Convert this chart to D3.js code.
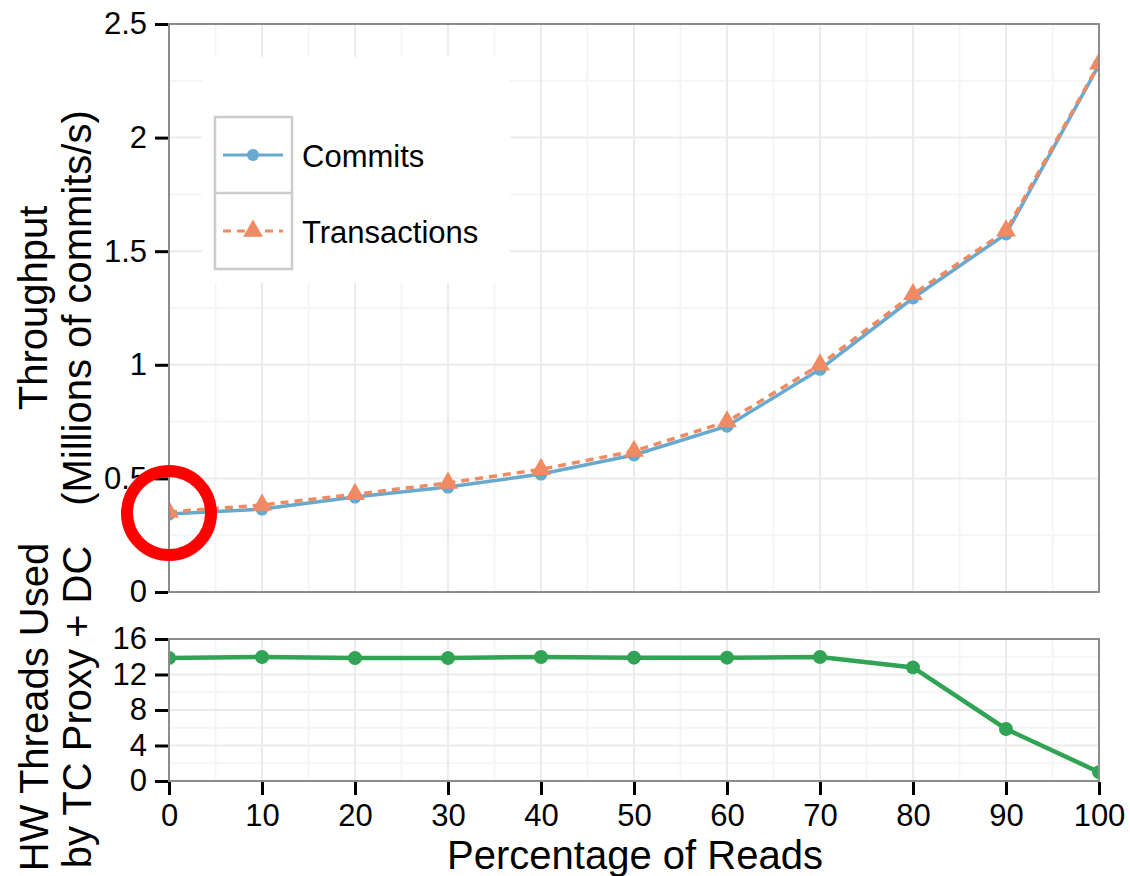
<!DOCTYPE html>
<html>
<head>
<meta charset="utf-8">
<title>Throughput vs percentage of reads</title>
<script src="https://d3js.org/d3.v7.min.js"></script>
<style>
  body { margin: 0; background: #fff; }
  text { font-family: "Liberation Sans", Arial, sans-serif; fill: #000; }
</style>
</head>
<body>
<div id="chart"></div>
<script>
// Data
var readPct      = [0, 10, 20, 30, 40, 50, 60, 70, 80, 90, 100];
var commits      = [0.343, 0.365, 0.418, 0.462, 0.519, 0.603, 0.73, 0.98, 1.294, 1.576, 2.32];
var transactions = [0.352, 0.383, 0.43, 0.48, 0.54, 0.62, 0.75, 1.0, 1.31, 1.59, 2.325];
var hwThreads    = [13.86, 13.97, 13.86, 13.86, 13.97, 13.9, 13.9, 13.97, 12.8, 5.86, 1.0];

var xTicks      = [0, 10, 20, 30, 40, 50, 60, 70, 80, 90, 100];
var topTicks    = [0, 0.5, 1, 1.5, 2, 2.5];
var topTickText = ["0", "0.5", "1", "1.5", "2", "2.5"];
var botTicks    = [0, 4, 8, 12, 16];
var seriesNames = ["Commits", "Transactions"];

const W = 1130, H = 876;
const blue = "#67a9cf", orange = "#ef8a62", green = "#31a354";

var svg = d3.select("#chart").append("svg")
  .attr("width", W).attr("height", H);

var x = d3.scaleLinear().domain([0, 100]).range([169, 1099]);
var yTop = d3.scaleLinear().domain([0, 2.5]).range([592, 24]);
var yBot = d3.scaleLinear().domain([0, 16]).range([781, 639]);

// grid for one panel
function drawGrid(y, major, minor) {
  var g = svg.append("g");
  var y0 = y.range()[0], y1 = y.range()[1];
  var xMinor = d3.range(5, 100, 10);
  g.selectAll(".vmin").data(xMinor).enter().append("line")
    .attr("x1", d => x(d)).attr("x2", d => x(d)).attr("y1", y0).attr("y2", y1)
    .attr("stroke", "#f5f5f5").attr("stroke-width", 2);
  g.selectAll(".hmin").data(minor).enter().append("line")
    .attr("x1", x(0)).attr("x2", x(100)).attr("y1", d => y(d)).attr("y2", d => y(d))
    .attr("stroke", "#f5f5f5").attr("stroke-width", 2);
  g.selectAll(".vmaj").data(xTicks).enter().append("line")
    .attr("x1", d => x(d)).attr("x2", d => x(d)).attr("y1", y0).attr("y2", y1)
    .attr("stroke", "#ebebeb").attr("stroke-width", 2);
  g.selectAll(".hmaj").data(major).enter().append("line")
    .attr("x1", x(0)).attr("x2", x(100)).attr("y1", d => y(d)).attr("y2", d => y(d))
    .attr("stroke", "#ebebeb").attr("stroke-width", 2);
}

drawGrid(yTop, topTicks, [0.25, 0.75, 1.25, 1.75, 2.25]);
drawGrid(yBot, botTicks, [2, 6, 10, 14]);

// clip paths so end markers are cut at the panel edge
var defs = svg.append("defs");
defs.append("clipPath").attr("id", "clipTop").append("rect")
  .attr("x", x(0)).attr("y", yTop(2.5)).attr("width", x(100) - x(0)).attr("height", yTop(0) - yTop(2.5));
defs.append("clipPath").attr("id", "clipBot").append("rect")
  .attr("x", x(0)).attr("y", yBot(16)).attr("width", x(100) - x(0)).attr("height", yBot(0) - yBot(16));

// legend background hides the grid
svg.append("rect").attr("x", 202).attr("y", 57).attr("width", 308).attr("height", 226).attr("fill", "#fff");

////////// TOP PANEL //////////
var topG = svg.append("g").attr("clip-path", "url(#clipTop)");
var lineC = d3.line().x((d, i) => x(readPct[i])).y(d => yTop(d));

topG.append("path").datum(commits).attr("d", lineC)
  .attr("fill", "none").attr("stroke", blue).attr("stroke-width", 3.5);
topG.selectAll(".cdot").data(commits).enter().append("circle")
  .attr("cx", (d, i) => x(readPct[i])).attr("cy", d => yTop(d)).attr("r", 6.5).attr("fill", blue);

topG.append("path").datum(transactions).attr("d", lineC)
  .attr("fill", "none").attr("stroke", orange).attr("stroke-width", 3.5)
  .attr("stroke-dasharray", "8,6");
var tri = d3.symbol().type(d3.symbolTriangle).size(170);
topG.selectAll(".tdot").data(transactions).enter().append("path")
  .attr("d", tri)
  .attr("transform", (d, i) => "translate(" + x(readPct[i]) + "," + yTop(d) + ")")
  .attr("fill", orange);

////////// BOTTOM PANEL //////////
var botG = svg.append("g").attr("clip-path", "url(#clipBot)");
var lineB = d3.line().x((d, i) => x(readPct[i])).y(d => yBot(d));
botG.append("path").datum(hwThreads).attr("d", lineB)
  .attr("fill", "none").attr("stroke", green).attr("stroke-width", 4.5);
botG.selectAll(".gdot").data(hwThreads).enter().append("circle")
  .attr("cx", (d, i) => x(readPct[i])).attr("cy", d => yBot(d)).attr("r", 7).attr("fill", green);

// panel borders
[yTop, yBot].forEach(function (y) {
  svg.append("rect")
    .attr("x", x(0)).attr("y", y.range()[1])
    .attr("width", x(100) - x(0)).attr("height", y.range()[0] - y.range()[1])
    .attr("fill", "none").attr("stroke", "#8c8c8c").attr("stroke-width", 2);
});

// axes
function styleAxis(g) {
  g.select(".domain").remove();
  g.selectAll(".tick line").attr("stroke", "#000").attr("stroke-width", 3);
  g.selectAll(".tick text").style("font-size", "31px").attr("fill", "#000");
}
svg.append("g").attr("transform", "translate(" + (x(0) - 1) + ",0)")
  .call(d3.axisLeft(yTop).tickValues(topTicks).tickFormat((d, i) => topTickText[i]).tickSize(13).tickPadding(8))
  .call(styleAxis);
svg.append("g").attr("transform", "translate(" + (x(0) - 1) + ",0)")
  .call(d3.axisLeft(yBot).tickValues(botTicks).tickSize(13).tickPadding(8))
  .call(styleAxis);
svg.append("g").attr("transform", "translate(0," + (yBot(0) + 1) + ")")
  .call(d3.axisBottom(x).tickValues(xTicks).tickSize(13).tickPadding(9))
  .call(styleAxis);

// axis titles
svg.append("text").attr("x", (x(0) + x(100)) / 2 + 1).attr("y", 869)
  .attr("text-anchor", "middle").style("font-size", "40px").text("Percentage of Reads");

var topMid = (yTop(0) + yTop(2.5)) / 2;
svg.append("text").attr("transform", "translate(47," + topMid + ") rotate(-90)")
  .attr("text-anchor", "middle").style("font-size", "40px").text("Throughput");
svg.append("text").attr("transform", "translate(91," + topMid + ") rotate(-90)")
  .attr("text-anchor", "middle").style("font-size", "40px").text("(Millions of commits/s)");

var botMid = (yBot(0) + yBot(16)) / 2;
svg.append("text").attr("transform", "translate(48," + (botMid - 3) + ") rotate(-90)")
  .attr("text-anchor", "middle").style("font-size", "40px").text("HW Threads Used");
svg.append("text").attr("transform", "translate(91," + (botMid - 3) + ") rotate(-90)")
  .attr("text-anchor", "middle").style("font-size", "40px").text("by TC Proxy + DC");

////////// LEGEND //////////
var lg = svg.append("g");
lg.append("rect").attr("x", 215).attr("y", 117).attr("width", 77).attr("height", 152)
  .attr("fill", "#fff").attr("stroke", "#cccccc").attr("stroke-width", 2.5);
lg.append("line").attr("x1", 215).attr("x2", 292).attr("y1", 193).attr("y2", 193)
  .attr("stroke", "#cccccc").attr("stroke-width", 2.5);

lg.append("line").attr("x1", 223).attr("x2", 283).attr("y1", 155).attr("y2", 155)
  .attr("stroke", blue).attr("stroke-width", 3);
lg.append("circle").attr("cx", 253).attr("cy", 155).attr("r", 6).attr("fill", blue);
lg.append("line").attr("x1", 223).attr("x2", 283).attr("y1", 231).attr("y2", 231)
  .attr("stroke", orange).attr("stroke-width", 3).attr("stroke-dasharray", "8,6");
lg.append("path").attr("d", tri).attr("transform", "translate(253,231)").attr("fill", orange);

lg.selectAll(".lbl").data(seriesNames).enter().append("text")
  .attr("x", 302).attr("y", (d, i) => 167 + i * 76)
  .style("font-size", "31px").text(d => d);

// red highlight ring around the first point
svg.append("circle")
  .attr("cx", x(readPct[0])).attr("cy", yTop(commits[0]) - 1).attr("r", 42)
  .attr("fill", "none").attr("stroke", "#ff0000").attr("stroke-width", 12);
</script>
</body>
</html>
